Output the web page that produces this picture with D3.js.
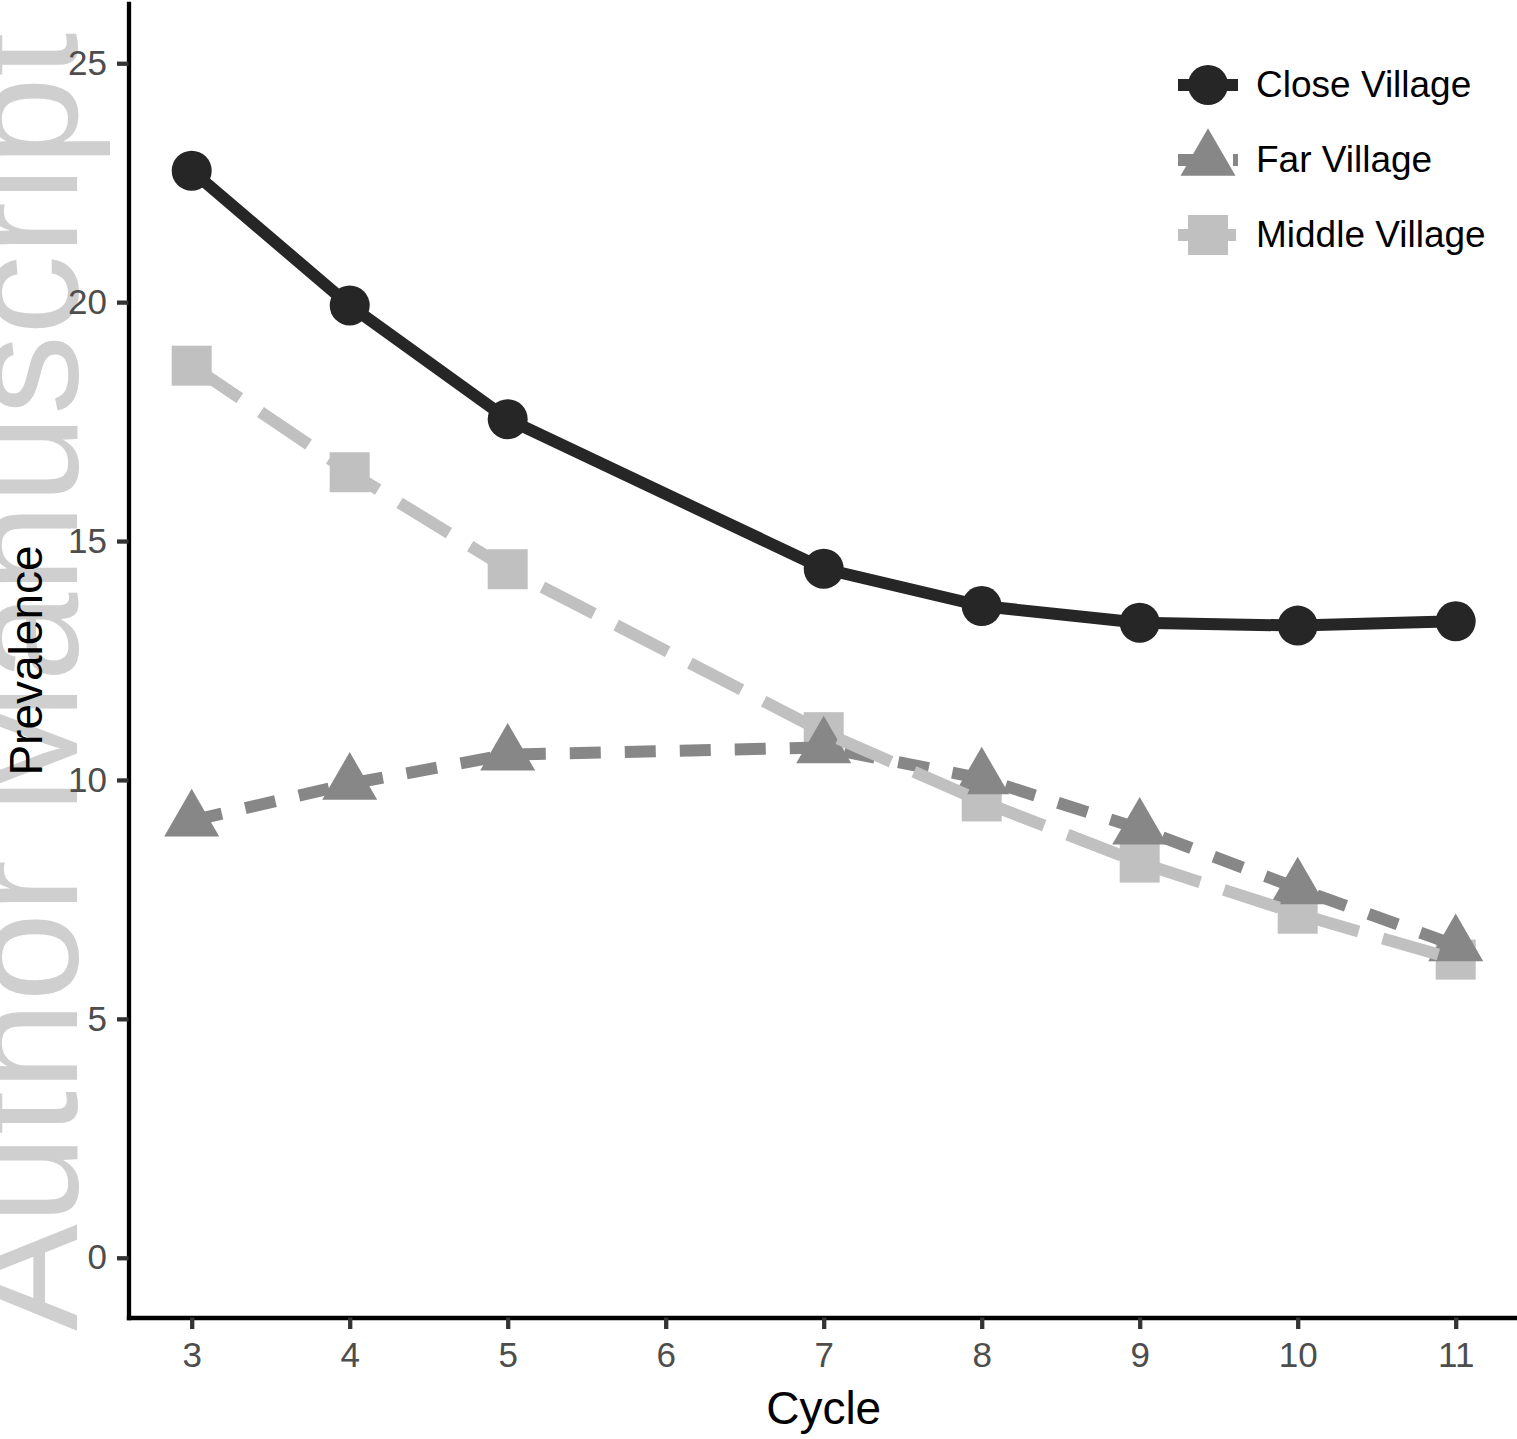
<!DOCTYPE html>
<html>
<head>
<meta charset="utf-8">
<script src="https://cdn.jsdelivr.net/npm/d3@7"></script>
<style>
  html, body { margin: 0; padding: 0; background: #ffffff; }
  svg { display: block; font-family: "Liberation Sans", Arial, Helvetica, sans-serif; }
</style>
</head>
<body>
<svg id="chart" width="1517" height="1439"></svg>
<script>
// ---- data ----
const cycles = [3, 4, 5, 7, 8, 9, 10, 11];
const closeVillage = [22.75, 19.93, 17.55, 14.42, 13.64, 13.29, 13.23, 13.32];
const farVillage = [9.15, 9.92, 10.53, 10.68, 10.03, 8.98, 7.73, 6.54];
const middleVillage = [18.67, 16.44, 14.41, 11.0, 9.55, 8.27, 7.2, 6.24];
const seriesNames = ["Close Village", "Far Village", "Middle Village"];
const xTicks = [3, 4, 5, 6, 7, 8, 9, 10, 11];
const yTicks = [0, 5, 10, 15, 20, 25];

const seriesValues = [closeVillage, farVillage, middleVillage];
const colors = ["#262626", "#878787", "#c0c0c0"];
const shapes = ["circle", "triangle", "square"];
const dashes = [null, "31,24", "58,25"];

const svg = d3.select("#chart");

const x = d3.scaleLinear().domain([2.6, 11.4]).range([128.5, 1518.9]);
const y = d3.scaleLinear().domain([-1.25, 26.25]).range([1317.5, 3.5]);

// ---- watermark ----
svg.append("text")
  .attr("transform", "translate(77,1331) rotate(-90)")
  .attr("font-size", 160)
  .attr("fill", "#cfcfcf")
  .text("Author Manuscript");

// ---- axes ----
const yAxis = svg.append("g")
  .attr("transform", `translate(${x.range()[0]},0)`)
  .call(d3.axisLeft(y).tickValues(yTicks).tickSize(11.5).tickSizeOuter(0).tickPadding(10));
const xAxis = svg.append("g")
  .attr("transform", `translate(0,${y.range()[0]})`)
  .call(d3.axisBottom(x).tickValues(xTicks).tickSize(11.5).tickSizeOuter(0).tickPadding(13));

[yAxis, xAxis].forEach(g => {
  g.select(".domain").attr("stroke", "#000").attr("stroke-width", 4.3).attr("stroke-linecap", "square");
  g.selectAll(".tick line").attr("stroke", "#333333").attr("stroke-width", 4.3);
  g.selectAll(".tick text").attr("fill", "#4d4d4d").attr("font-size", 35)
    .attr("font-family", "Liberation Sans, Arial, sans-serif");
});

// axis titles
svg.append("text")
  .attr("x", (x(3) + x(11)) / 2).attr("y", 1424)
  .attr("text-anchor", "middle").attr("font-size", 46).attr("fill", "#000")
  .text("Cycle");
svg.append("text")
  .attr("transform", `translate(42,${(y(-1.25) + y(26.25)) / 2}) rotate(-90)`)
  .attr("text-anchor", "middle").attr("font-size", 46).attr("fill", "#000")
  .text("Prevalence");

// ---- markers ----
function drawShape(g, shape, cx, cy, color) {
  if (shape === "circle") {
    g.append("circle").attr("cx", cx).attr("cy", cy).attr("r", 20).attr("fill", color);
  } else if (shape === "triangle") {
    const r = 31.7, hw = 27.5;
    g.append("path")
      .attr("d", `M${cx},${cy - r}L${cx + hw},${cy + r / 2}L${cx - hw},${cy + r / 2}Z`)
      .attr("fill", color);
  } else {
    g.append("rect").attr("x", cx - 20).attr("y", cy - 20).attr("width", 40).attr("height", 40).attr("fill", color);
  }
}

const pts = svg.append("g");
// draw per cycle: middle squares first, then far triangles, then close circles
cycles.forEach((c, i) => {
  [2, 1, 0].forEach(s => drawShape(pts, shapes[s], x(c), y(seriesValues[s][i]), colors[s]));
});

// ---- lines ----
const line = d3.line().x(d => x(d[0])).y(d => y(d[1]));
const lines = svg.append("g");
seriesValues.forEach((vals, s) => {
  const p = lines.append("path")
    .datum(cycles.map((c, i) => [c, vals[i]]))
    .attr("d", line)
    .attr("fill", "none")
    .attr("stroke", colors[s])
    .attr("stroke-width", 12)
    .attr("stroke-linejoin", "round")
    .attr("stroke-linecap", "butt");
  if (dashes[s]) p.attr("stroke-dasharray", dashes[s]);
});

// ---- legend ----
const legend = svg.append("g");
const legendY = [85, 160, 235];
seriesNames.forEach((name, s) => {
  const cy = legendY[s];
  drawShape(legend, shapes[s], 1208, cy, colors[s]);
  const l = legend.append("line")
    .attr("x1", 1178).attr("x2", 1238).attr("y1", cy).attr("y2", cy)
    .attr("stroke", colors[s]).attr("stroke-width", 12);
  if (dashes[s]) l.attr("stroke-dasharray", dashes[s]);
  legend.append("text")
    .attr("x", 1256).attr("y", cy + 12)
    .attr("font-size", 37).attr("fill", "#000")
    .text(name);
});
</script>
</body>
</html>
